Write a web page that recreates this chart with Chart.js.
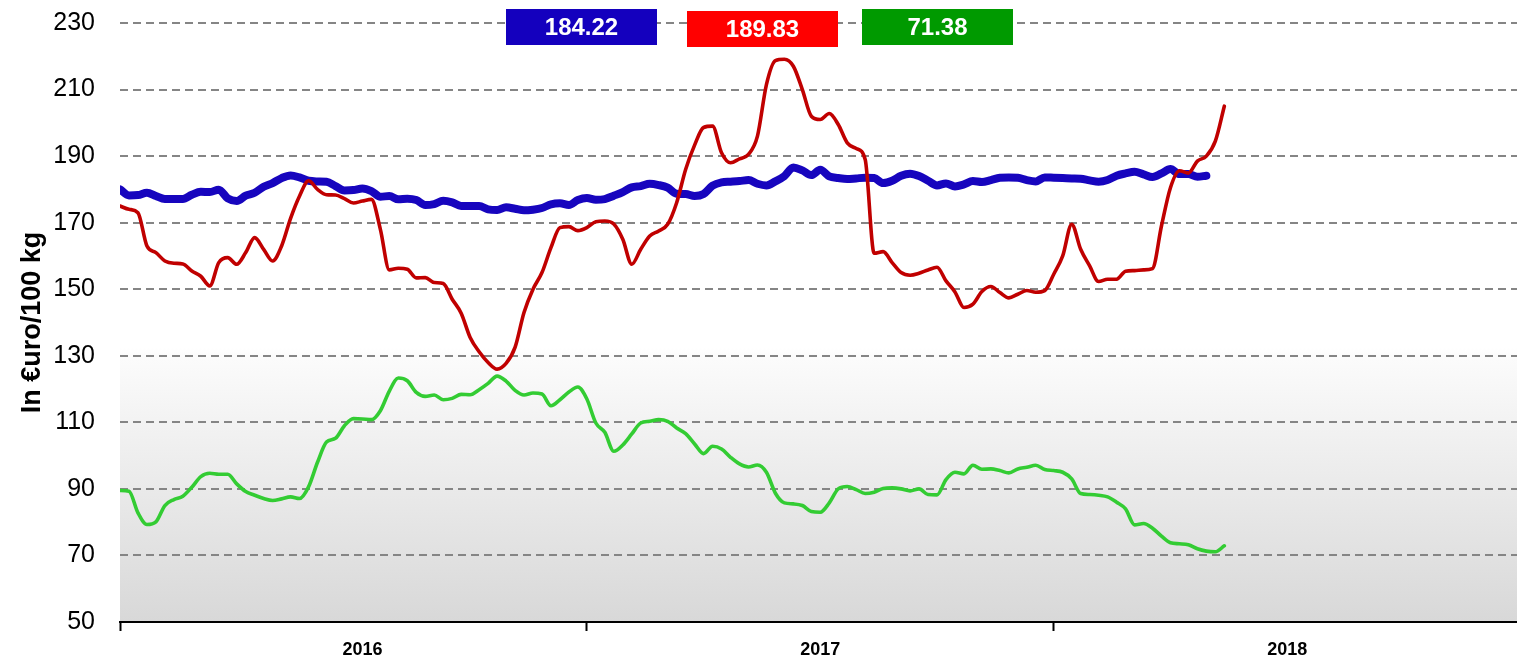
<!DOCTYPE html>
<html><head><meta charset="utf-8">
<script src="https://cdn.jsdelivr.net/npm/chart.js@4.4.1/dist/chart.umd.min.js"></script>
<style>html,body{margin:0;padding:0;background:#fff;}#wrap{width:1517px;height:658px;position:relative;}</style>
</head><body><div id="wrap"><canvas id="c" width="1517" height="658"></canvas></div>
<script>
// Categories: weeks since start of 2016
const years = ['2016', '2017', '2018'];
const yearStartWeeks = [0, 52, 104];
const yTicks = [50, 70, 90, 110, 130, 150, 170, 190, 210, 230];

// Series values (euro / 100 kg), one per week
const blueSeries = [180,178.2,178.3,179,178,177.1,177.1,177.1,178.4,179.3,
179.2,179.9,177.3,176.5,178.1,179,180.8,181.9,183.4,184.2,
183.6,182.6,182.4,182.3,181,179.7,179.8,180.3,179.5,177.8,
178,177,177.2,176.8,175.3,175.6,176.6,176.1,175,175,
175,174,173.8,174.6,174.2,173.7,173.9,174.4,175.5,175.8,
175.3,176.8,177.4,176.9,177.1,178.1,179.2,180.6,181,181.7,
181.3,180.5,178.7,178.6,178,178.6,181.1,182.1,182.3,182.5,
182.8,181.7,181.2,182.4,184,186.6,185.7,184.3,185.9,183.9,
183.4,183.1,183.3,183.5,183.4,181.9,182.6,184.1,184.7,184,
182.6,181.2,181.8,180.9,181.5,182.5,182.2,182.8,183.5,183.6,
183.5,182.8,182.4,183.6,183.5,183.4,183.3,183.2,182.7,182.3,
182.8,184.1,184.8,185.3,184.5,183.7,184.8,186.1,184.6,184.6,
183.8,184.1];

const redSeries = [175,174,173,163,161,158.5,157.8,157.6,155.5,153.9,
151,158,159.5,157.5,161,165.5,162,158.5,163,171.3,
178,182.6,180,178.4,178.3,177.2,175.9,176.5,177,168,
155.8,156.3,156,153.4,153.5,152,151.7,147,142.8,135.5,
131.2,128,126,127.7,132.5,143,150,155,162.5,168.5,
168.8,167.6,168.5,170.3,170.5,169.6,165,157.5,162,166,
167.5,169.5,176,186,193.3,198.6,199,191,188,189.2,
190.5,196,211.5,218.7,219.1,217,210,202,201,202.8,
199.5,194,192.3,189,160.8,161.3,158,155,154.2,154.8,
155.8,156.6,152.5,149.2,144.5,145.5,149.3,150.8,149,147.4,
148.5,149.6,149.1,149.6,154.5,160,169.5,162,157,152.3,
153,153,155.4,155.6,155.8,156.2,169,180.5,185.6,184.9,
188.5,190,194.5,205];

const greenSeries = [89.5,89.3,82.8,79.3,80.1,85,86.8,87.8,90.5,93.7,
94.7,94.4,94.4,91.5,89.2,88.1,87.1,86.5,87,87.6,
87.1,90.6,98,104.1,105.2,109,111.1,111,110.8,113.5,
119.4,123.3,122.5,119,117.8,118.2,116.8,117.2,118.4,118.3,
119.8,121.7,123.9,122.4,119.6,118.2,118.8,118.5,115,116.8,
119.1,120.6,117,109.8,107,101.3,103.2,106.5,109.8,110.3,
110.8,110.3,108.3,106.6,103.5,100.6,102.8,102,99.5,97.5,
96.6,97.2,95,88.7,85.8,85.5,85,83.2,83,85.8,
90,90.7,89.8,88.6,89,90.1,90.3,90,89.4,90,
88.3,88.2,92.8,95,94.5,97.1,95.9,96,95.5,94.8,
96,96.5,97.1,95.8,95.5,95,93,88.6,88.3,88.1,
87.6,86,84,79.2,79.6,78.2,75.8,73.8,73.5,73.2,
72,71.3,71.1,72.9];

// Boxed values shown above the chart (blue, red, green)
const boxLabels = ['184.22', '189.83', '71.38'];

const COL_BLUE = '#1705BE', COL_RED = '#C00000', COL_GREEN = '#33CC33';
const BOX_COLS = ['#1400BE', '#FF0000', '#009A00'];
const FONT = '"Liberation Sans", Arial, sans-serif';

const toPts = arr => arr.map((v, i) => ({x: i, y: v}));
const labelShift = [27, 26, 26];
const labelWeeks = yearStartWeeks.map((w, i) => w + labelShift[i]);

const bgPlugin = {
  id: 'bg',
  beforeDraw(chart) {
    const {ctx, chartArea: a} = chart;
    const y0 = 348;
    const g = ctx.createLinearGradient(0, y0, 0, a.bottom);
    g.addColorStop(0, '#ffffff');
    g.addColorStop(0.04, '#fbfbfb');
    g.addColorStop(1, '#d8d8d8');
    ctx.save();
    ctx.fillStyle = '#ffffff';
    ctx.fillRect(0, 0, chart.width, chart.height);
    ctx.fillStyle = g;
    ctx.fillRect(a.left, y0, a.right - a.left, a.bottom - y0);
    ctx.restore();
  }
};

const boxPlugin = {
  id: 'boxes',
  afterDraw(chart) {
    const {ctx} = chart;
    const boxes = [[506, 9, 151, 36], [687, 11, 151, 36], [862, 9, 151, 36]];
    ctx.save();
    boxLabels.forEach((t, i) => {
      const [x, y, w, h] = boxes[i];
      ctx.fillStyle = BOX_COLS[i];
      ctx.fillRect(x, y, w, h);
      ctx.fillStyle = '#ffffff';
      ctx.font = 'bold 24px ' + FONT;
      ctx.textAlign = 'center';
      ctx.textBaseline = 'middle';
      ctx.fillText(t, x + w / 2, y + h / 2 + 1);
    });
    ctx.restore();
  }
};

new Chart(document.getElementById('c'), {
  type: 'line',
  data: {
    datasets: [
      {data: toPts(redSeries), borderColor: COL_RED, borderWidth: 3.6, order: 0},
      {data: toPts(greenSeries), borderColor: COL_GREEN, borderWidth: 3.6, order: 1},
      {data: toPts(blueSeries), borderColor: COL_BLUE, borderWidth: 8, order: 2}
    ].map(d => Object.assign(d, {
      pointRadius: 0, pointHoverRadius: 0, fill: false,
      cubicInterpolationMode: 'monotone', borderCapStyle: 'round', borderJoinStyle: 'round'
    }))
  },
  options: {
    responsive: false,
    animation: false,
    events: [],
    layout: {padding: {top: 23, right: 0, left: 0, bottom: 0}},
    plugins: {legend: {display: false}, tooltip: {enabled: false}},
    scales: {
      x: {
        type: 'linear', min: 0, max: 155.6,
        afterBuildTicks(s) {
          const t = [];
          yearStartWeeks.forEach((w, i) => { t.push({value: w}); t.push({value: labelWeeks[i]}); });
          s.ticks = t;
        },
        afterFit(s) { s.height = 36; s.paddingLeft = 0; s.paddingRight = 0; },
        ticks: {
          autoSkip: false, maxRotation: 0, minRotation: 0, padding: 8,
          color: '#000', font: {family: FONT, size: 18, weight: 'bold'},
          callback(v) { const i = labelWeeks.indexOf(v); return i >= 0 ? years[i] : ''; }
        },
        grid: {
          display: true, drawOnChartArea: false, drawTicks: true, tickLength: 9, tickWidth: 2,
          tickColor: c => (c.tick && yearStartWeeks.includes(c.tick.value)) ? '#000' : 'rgba(0,0,0,0)'
        },
        border: {display: true, color: '#000', width: 2}
      },
      y: {
        min: 50, max: 230,
        afterBuildTicks(s) { s.ticks = yTicks.map(v => ({value: v})); },
        afterFit(s) { s.width = 120; s.paddingTop = 0; s.paddingBottom = 0; },
        ticks: {color: '#000', padding: 25, font: {family: FONT, size: 25}},
        grid: {
          drawTicks: false, lineWidth: 2,
          color: c => (c.tick && c.tick.value === 50) ? 'rgba(0,0,0,0)' : '#858585'
        },
        border: {display: false, dash: [8, 5]},
        title: {display: true, text: 'In €uro/100 kg', color: '#000',
          font: {family: FONT, size: 27, weight: 'bold'}, padding: {top: 16, bottom: 0}}
      }
    }
  },
  plugins: [bgPlugin, boxPlugin]
});
</script></body></html>
